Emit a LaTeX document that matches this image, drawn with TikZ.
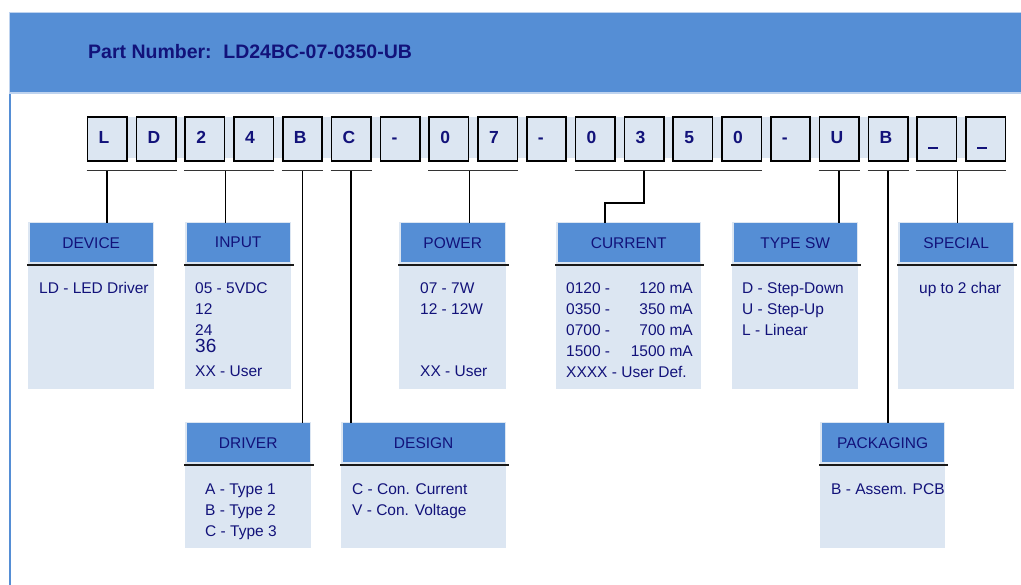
\documentclass[tikz,border=0pt]{standalone}
\usepackage{fontspec}
\setmainfont{Liberation Sans}

\definecolor{hdblue}{RGB}{85,142,213}
\definecolor{paleblue}{RGB}{220,230,242}
\definecolor{edgeblue}{RGB}{190,211,239}
\definecolor{navy}{RGB}{18,18,122}

\newcommand{\fieldfont}{\fontsize{15.5}{18}\selectfont}
\newcommand{\uscore}{\rule[-5.5pt]{10pt}{2.4pt}}

% one field: name, left, right, top, bottom, title
\newcommand{\field}[6]{%
  \fill[paleblue] (#2,#4) rectangle (#3,#5);
  \node[hdbox, minimum width={(#3-#2-3)*1pt}, anchor=north west] (#1) at (#2+1.5,#4+0.5) {#6};
  \draw[sepline] (#2-1,#4+42.5) -- (#3+3,#4+42.5);
}

\begin{document}
\begin{tikzpicture}[x=1pt, y=-1pt,
    charbox/.style={draw=black, line width=1.6pt, fill=paleblue, minimum width=39.5pt,
                    minimum height=44pt, inner sep=0pt},
    chartext/.style={anchor=base west, inner sep=0pt, text=navy, font=\fontsize{17.5}{18}\selectfont\bfseries},
    hdbox/.style={fill=hdblue, minimum height=39pt, inner sep=0pt, text=navy, font=\fieldfont},
    txt/.style={anchor=base west, inner sep=0pt, text=navy, font=\fieldfont},
    sepline/.style={line width=1.8pt, black!90},
    bar/.style={line width=1.4pt, black!80},
    stem/.style={line width=1.6pt, black}]
  \useasboundingbox[fill=white] (0,0) rectangle (1021,585);

  % frame and title band
  \draw[hdblue, line width=2pt] (10,90) -- (10,590);
  \draw[edgeblue, line width=1.5pt, fill=hdblue] (9.5,12.5) rectangle (1030,93);
  \node[anchor=base west, inner sep=0pt, text=navy, font=\fontsize{19.5}{22}\selectfont\bfseries]
    (title) at (88,59) {Part Number:\hspace{0.6em}LD24BC-07-0350-UB};

  % the code characters
  \fill[paleblue] (87.5,117) rectangle (1005.4,158);
  \foreach \ch [count=\i] in {L,D,2,4,B,C,-,0,7,-,0,3,5,0,-,U,B,\uscore,\uscore} {
    \node[charbox] (c\i) at ({107.25+(\i-1)*48.8},139) {};
    \node[chartext] (t\i) at ({98.5+(\i-1)*48.8},144) {\ch};
  }
  \foreach \a/\b in {1/2,3/4,5/5,6/6,8/9,11/14,16/16,17/17,18/19}
    \draw[bar] ([yshift=-9pt]c\a.south west) -- ([yshift=-9pt]c\b.south east);

  % fields, top row
  \field{device}{28}{154}{222.5}{389.5}{DEVICE}
  \field{input}{185}{291}{222.5}{389.5}{INPUT}
  \field{power}{399}{506}{222.5}{389.5}{POWER}
  \field{current}{556}{701}{222.5}{389.5}{CURRENT}
  \field{typesw}{732}{858}{222.5}{389.5}{TYPE SW}
  \field{special}{898}{1014}{222.5}{389.5}{SPECIAL}
  % fields, bottom row
  \field{driver}{185}{311}{422.5}{548}{DRIVER}
  \field{design}{341}{506}{422.5}{548}{DESIGN}
  \field{packaging}{820}{945}{422.5}{548}{PACKAGING}

  % connectors
  \draw[stem] ([yshift=-9pt]c1.south) -- (c1.south |- device.north);
  \draw[stem] ([yshift=-9pt]c3.south east) -- (c3.south east |- input.north);
  \draw[stem] ([yshift=-9pt]c5.south) -- (c5.south |- driver.north);
  \draw[stem] ([yshift=-9pt]c6.south) -- (c6.south |- design.north);
  \draw[stem] ([yshift=-9pt]c8.south east) -- (c8.south east |- power.north);
  \coordinate (kink) at (605,203);
  \draw[stem] ([yshift=-9pt]c12.south) |- (kink) -- (kink |- current.north);
  \draw[stem] ([yshift=-9pt]c16.south) -- (c16.south |- typesw.north);
  \draw[stem] ([yshift=-9pt]c17.south) -- (c17.south |- packaging.north);
  \draw[stem] ([yshift=-9pt]c18.south east) -- (c18.south east |- special.north);

  % field contents
  \node[txt] (dev1) at (39,294) {LD - LED Driver};

  \node[txt] (in1) at (195,294) {05 - 5VDC};
  \node[txt] (in2) at (195,315) {12};
  \node[txt] (in3) at (195,336) {24};
  \node[txt, font=\fontsize{19}{20}\selectfont] (in4) at (195,353) {36};
  \node[txt] (in5) at (195,377) {XX - User};

  \node[txt] (pw1) at (420,294) {07 - 7W};
  \node[txt] (pw2) at (420,315) {12 - 12W};
  \node[txt] (pw3) at (420,377) {XX - User};

  \foreach \code/\amp [count=\k] in {0120/120,0350/350,0700/700,1500/1500} {
    \node[txt] (cur\k) at (566,{273+21*\k}) {\code\ -};
    \node[txt, anchor=base east] (amp\k) at (693,{273+21*\k}) {\amp\ mA};
  }
  \node[txt] (cur5) at (566,378) {XXXX - User Def.};

  \foreach \t [count=\k] in {D - Step-Down, U - Step-Up, L - Linear}
    \node[txt] (sw\k) at (742,{273+21*\k}) {\t};

  \node[txt] (sp1) at (919,294) {up to 2 char};

  \foreach \t [count=\k] in {A - Type 1, B - Type 2, C - Type 3}
    \node[txt] (drv\k) at (205,{473+21*\k}) {\t};

  \foreach \t [count=\k] in {C - Con. Current, V - Con. Voltage}
    \node[txt] (des\k) at (352,{473+21*\k}) {\t};

  \node[txt] (pk1) at (831,494) {B - Assem. PCB};
\end{tikzpicture}
\end{document}
